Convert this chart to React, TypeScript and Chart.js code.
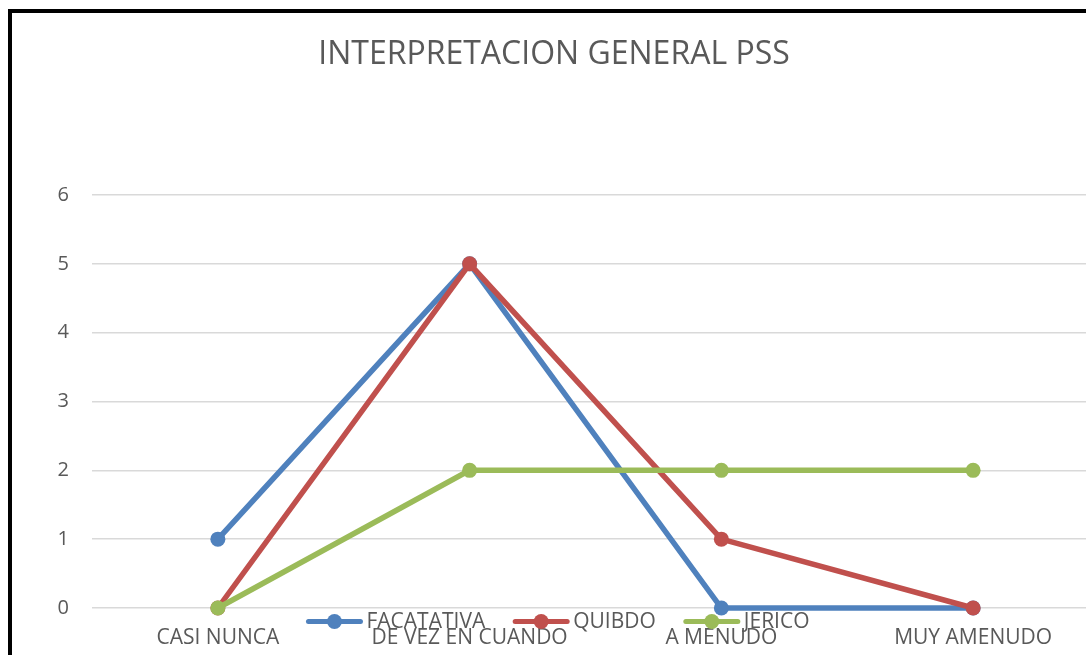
import React, { useEffect, useRef } from "react";
import { Chart, registerables } from "chart.js";

Chart.register(...registerables);

const categories = ["CASI NUNCA", "DE VEZ EN CUANDO", "A MENUDO", "MUY AMENUDO"];
const facatativa = [1, 5, 0, 0];
const quibdo = [0, 5, 1, 0];
const jerico = [0, 2, 2, 2];
const seriesNames = ["FACATATIVA", "QUIBDO", "JERICO"];
const seriesColors = ["#4F81BD", "#C0504D", "#9BBB59"];
const yMin = 0;
const yMax = 6;
const yStep = 1;
const chartTitle = "INTERPRETACION GENERAL PSS";

const W = 1120;
const H = 690;
const FONT = "'Open Sans', 'DejaVu Sans', sans-serif";
const TEXT = "#595959";
const CENTER_X = 556;

const decor = {
  id: "decor",
  beforeDraw(chart: any) {
    const ctx = chart.ctx;
    ctx.save();
    ctx.fillStyle = "#ffffff";
    ctx.fillRect(0, 0, W, H);
    ctx.restore();
  },
  beforeDatasetsDraw(chart: any) {
    const ctx = chart.ctx;
    ctx.save();
    ctx.font = `21px ${FONT}`;
    const lineLen = 56;
    const textGap = 4;
    const itemGap = 28;
    const widths = seriesNames.map((n) => ctx.measureText(n).width);
    let total = 0;
    widths.forEach((w, i) => {
      total += lineLen + textGap + w + (i < widths.length - 1 ? itemGap : 0);
    });
    let x = CENTER_X + 2 - total / 2;
    const y = 621.5;
    seriesNames.forEach((name, i) => {
      ctx.strokeStyle = seriesColors[i];
      ctx.lineWidth = 5;
      ctx.lineCap = "round";
      ctx.beginPath();
      ctx.moveTo(x + 2, y);
      ctx.lineTo(x + lineLen - 2, y);
      ctx.stroke();
      ctx.fillStyle = seriesColors[i];
      ctx.beginPath();
      ctx.arc(x + lineLen / 2, y, 7.5, 0, Math.PI * 2);
      ctx.fill();
      ctx.fillStyle = TEXT;
      ctx.textBaseline = "middle";
      ctx.textAlign = "left";
      ctx.fillText(name, x + lineLen + textGap, y + 1);
      x += lineLen + textGap + widths[i] + itemGap;
    });
    ctx.restore();
  },
  afterDraw(chart: any) {
    const ctx = chart.ctx;
    ctx.save();
    ctx.fillStyle = TEXT;
    ctx.font = `32px ${FONT}`;
    ctx.textAlign = "center";
    ctx.textBaseline = "alphabetic";
    ctx.fillText(chartTitle, CENTER_X - 2, 64);
    ctx.strokeStyle = "#000000";
    ctx.lineWidth = 4;
    ctx.strokeRect(10, 11, W + 20, H + 20);
    ctx.restore();
  },
};

export default function App() {
  const ref = useRef<HTMLCanvasElement | null>(null);
  useEffect(() => {
    if (!ref.current) return;
    const data = [facatativa, quibdo, jerico];
    const chart = new Chart(ref.current, {
      type: "line",
      data: {
        labels: categories,
        datasets: data.map((vals, i) => ({
          label: seriesNames[i],
          data: vals,
          borderColor: seriesColors[i],
          backgroundColor: seriesColors[i],
          pointBackgroundColor: seriesColors[i],
          pointBorderColor: seriesColors[i],
          borderWidth: 5.5,
          pointRadius: 7.5,
          pointBorderWidth: 0,
          tension: 0,
          clip: false as any,
          order: 3 - i,
        })),
      },
      options: {
        responsive: false,
        animation: false,
        devicePixelRatio: 1,
        layout: { padding: { left: 0, right: W - 1099, top: 195, bottom: H - 608 - 47 } },
        plugins: {
          legend: { display: false },
          title: { display: false },
          tooltip: { enabled: false },
        },
        scales: {
          x: {
            type: "category",
            offset: true,
            grid: { display: false, drawTicks: false },
            border: { display: false },
            ticks: {
              color: TEXT,
              font: { family: FONT, size: 21 },
              padding: 17,
              maxRotation: 0,
              autoSkip: false,
            },
            afterFit: (s: any) => {
              s.height = 47;
            },
          },
          y: {
            min: yMin,
            max: yMax,
            grid: { color: "#D9D9D9", lineWidth: 1.5, drawTicks: false },
            border: { display: false },
            ticks: {
              stepSize: yStep,
              color: TEXT,
              font: { family: FONT, size: 20 },
              padding: 23,
            },
            afterFit: (s: any) => {
              s.width = 92;
            },
          },
        },
      },
      plugins: [decor],
    });
    return () => chart.destroy();
  }, []);
  return (
    <div
      style={{
        position: "fixed",
        left: 0,
        top: 0,
        width: 1086,
        height: 655,
        overflow: "hidden",
        background: "#fff",
      }}
    >
      <canvas
        ref={ref}
        width={W}
        height={H}
        style={{ position: "absolute", left: 0, top: 0, width: W, height: H, display: "block" }}
      />
    </div>
  );
}
